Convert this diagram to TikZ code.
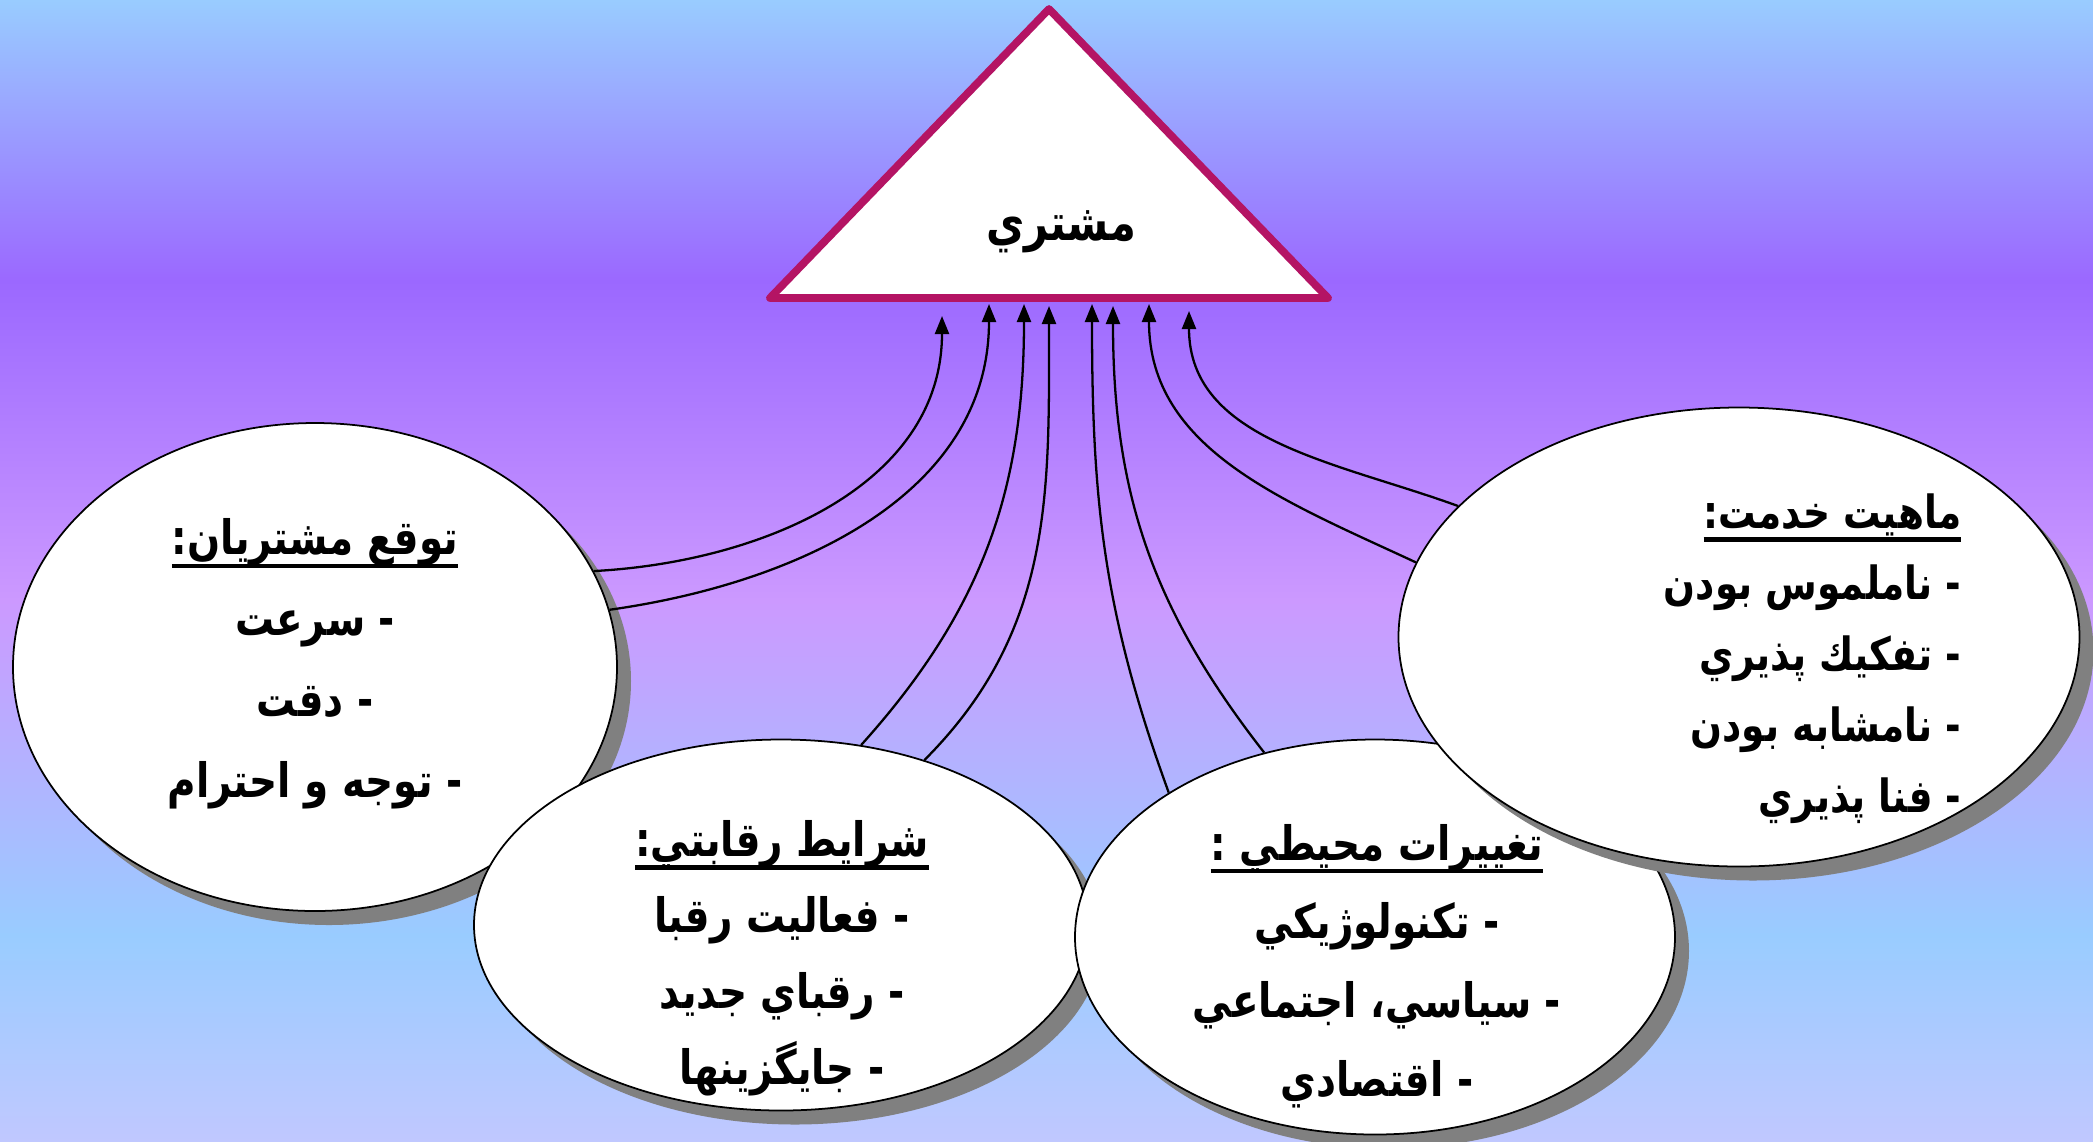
\documentclass[tikz,border=0pt]{standalone}
\usepackage{fontspec}
\usetikzlibrary{arrows.meta,shapes.geometric,shadows}
\TeXXeTstate=1
\newfontfamily\arabicfont[Script=Arabic, FakeStretch=0.82]{DejaVu Sans}
\definecolor{bgblue}{RGB}{153,204,255}
\definecolor{bgviolet}{RGB}{155,104,255}
\definecolor{bglilac}{RGB}{204,153,255}
\definecolor{bgfoot}{RGB}{192,200,255}
\definecolor{custedge}{RGB}{180,20,100}
\definecolor{dropgray}{RGB}{128,128,128}
\newcommand\rl[1]{\beginR#1\endR}
\newcommand\ttl[1]{\setbox0=\hbox{\beginR#1\endR}\leavevmode\rlap{\vrule height -0.19em depth 0.28em width \wd0}\box0}
\tikzset{
  bubble/.style={
    ellipse, draw=black, line width=0.5pt, fill=white, inner sep=0pt,
    drop shadow={shadow xshift=1.4mm, shadow yshift=-1.4mm, fill=dropgray, opacity=1}
  },
  apex/.style={draw=custedge, line width=2.2pt, line join=round, fill=white},
  txt/.style={font=\arabicfont\bfseries\fontsize{13.5}{23}\selectfont, align=center, inner sep=0pt},
  arr/.style={-{Triangle[length=1.8mm,width=1.4mm]}, line width=0.65pt}
}

\begin{document}
\begin{tikzpicture}[x=0.1mm, y=0.1mm]
  \useasboundingbox (0,0) rectangle (2093,-1141);
  % background bands
  \shade[top color=bgblue, bottom color=bgviolet] (0,0) rectangle (2093,-281);
  \shade[top color=bgviolet, bottom color=bglilac] (0,-280) rectangle (2093,-601);
  \shade[top color=bglilac, bottom color=bgblue] (0,-600) rectangle (2093,-936);
  \shade[top color=bgblue, bottom color=bgfoot] (0,-935) rectangle (2093,-1141);

  % the four factors
  \node[bubble, minimum width=60.4mm, minimum height=48.8mm] (expect) at (315,-667) {};
  \node[txt] (expectTxt) at (315,-664) {\ttl{توقع مشتريان:}\\ \rl{- سرعت}\\ \rl{- دقت}\\ \rl{- توجه و احترام}};
  \node[bubble, minimum width=61.4mm, minimum height=37.1mm] (rival) at (781,-925) {};
  \node[txt, font=\arabicfont\bfseries\fontsize{13.5}{21.6}\selectfont] (rivalTxt) at (782,-958) {\ttl{شرايط رقابتي:}\\ \rl{- فعاليت رقبا}\\ \rl{- رقباي جديد}\\ \rl{- جايگزينها}};
  \node[bubble, minimum width=60mm, minimum height=39.5mm] (env) at (1375,-937) {};
  \node[txt, font=\arabicfont\bfseries\fontsize{13.5}{22.4}\selectfont] (envTxt) at (1377,-966) {\ttl{تغييرات محيطي :}\\ \rl{- تكنولوژيكي}\\ \rl{- سياسي، اجتماعي}\\ \rl{- اقتصادي}};
  \node[bubble, minimum width=68.1mm, minimum height=45.9mm] (service) at (1739,-637) {};
  \node[txt, align=right, anchor=east, font=\arabicfont\bfseries\fontsize{13}{20.2}\selectfont] (serviceTxt) at (1962,-659) {\ttl{ماهيت خدمت:}\\ \rl{- ناملموس بودن}\\ \rl{- تفكيك پذيري}\\ \rl{- نامشابه بودن}\\ \rl{- فنا پذيري}};

  % customer
  \coordinate (peak) at (1049,-9);
  \coordinate (baseR) at (1328,-298);
  \coordinate (baseL) at (770,-298);
  \draw[apex] (peak) -- (baseR) -- (baseL) -- cycle;
  \node[txt, font=\arabicfont\bfseries\fontsize{14.5}{20}\selectfont] (client) at (1061,-232) {\rl{مشتري}};

  \foreach \n/\x/\y in {1/942/316, 2/989/304, 3/1024/304, 4/1049/306, 5/1092/304, 6/1113/306, 7/1149/304, 8/1189/311}
    \coordinate (t\n) at (\x,-\y);
  \foreach \s/\o/\t in {expect.19/3/t1, expect.11/8/t2, rival.66/48/t3, rival.49/45/t4, env.145/110/t5, env.121/128/t6, service.167/155/t7, service.155/160/t8}
    \draw[arr] (\s) to[out=\o, in=-90] (\t);
\end{tikzpicture}
\end{document}
